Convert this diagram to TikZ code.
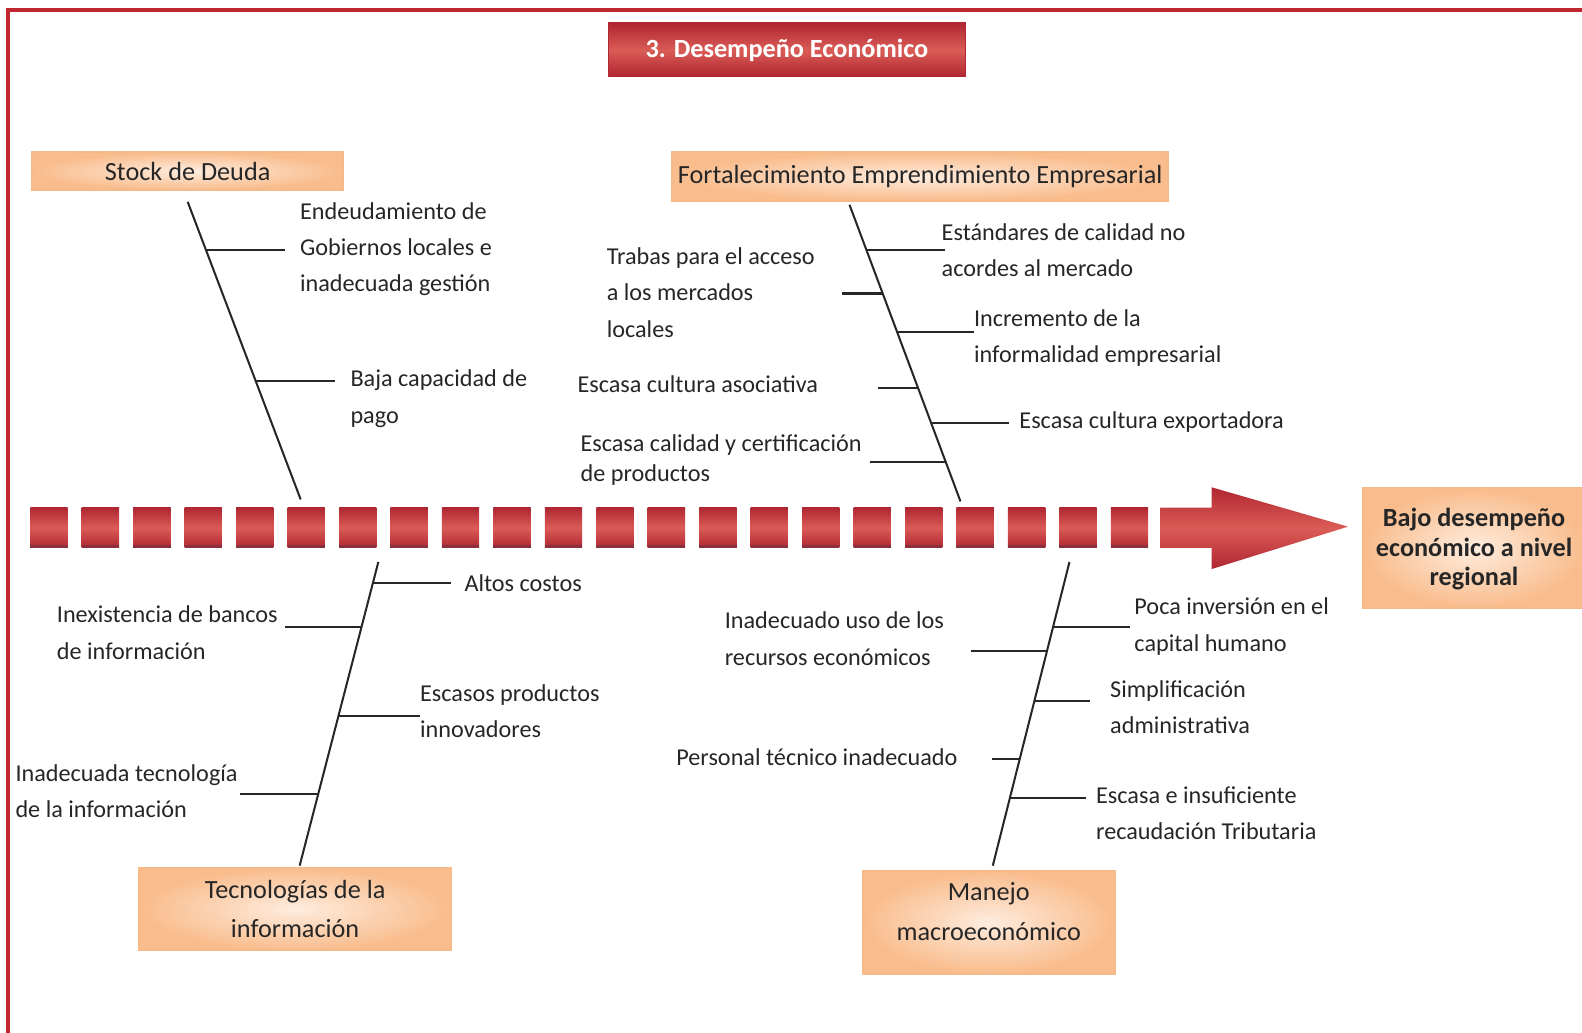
\documentclass[tikz,border=0pt]{standalone}
\usepackage{fontspec}
\setmainfont{Carlito}
\usetikzlibrary{calc}

\definecolor{marco}{RGB}{192,39,48}
\definecolor{rojoosc}{RGB}{176,38,50}
\definecolor{rojoclaro}{RGB}{218,92,86}
\definecolor{rojoborde}{RGB}{140,48,62}
\definecolor{durazno}{RGB}{249,188,140}
\definecolor{duraznoclaro}{RGB}{254,236,222}
\definecolor{duraznoborde}{RGB}{246,186,136}
\definecolor{texto}{RGB}{38,38,38}

\tikzset{
  lbl/.style={anchor=west,align=left,inner sep=0pt,text=texto,font=\fontsize{12}{18}\selectfont},
  causa/.style={draw=duraznoborde,line width=1pt,inner color=duraznoclaro,outer color=durazno,
    text=texto,align=center,inner sep=0pt,font=\fontsize{13}{19.5}\selectfont},
  titulo/.style={draw=rojoosc,line width=0.8pt,top color=rojoosc,bottom color=rojoosc,middle color=rojoclaro,
    text=white,inner sep=0pt,font=\fontsize{13}{15}\bfseries\selectfont},
  hueso/.style={line width=1pt,texto},
  rama/.style={line width=1pt,texto},
}

\begin{document}
\begin{tikzpicture}[x=0.5pt,y=-0.5pt]
\useasboundingbox (0,0) rectangle (1568,1023);
% marco
\draw[marco,line width=1.6pt] (8,1030) -- (8,10) -- (1575,10);

% titulo
\node[titulo,minimum width=177pt,minimum height=26.5pt] (tit) at (780,49.5) {3. Desempeño Económico};

% espina
\foreach \i in {0,...,21}{
  \shade[top color=rojoosc,bottom color=rojoosc,middle color=rojoclaro] ({30+51*\i},503) rectangle ++(37,40);
  \fill[rojoborde] ({30+51*\i},540) rectangle ++(37,3);
}
\shade[top color=rojoosc,bottom color=rojoosc,middle color=rojoclaro]
  (1150,503) -- (1201,503) -- (1201,483) -- (1336,522) -- (1201,564) -- (1201,543) -- (1150,543) -- cycle;

% efecto
\node[causa,minimum width=110pt,minimum height=59.5pt,font=\fontsize{13}{14.5}\bfseries\selectfont] (efecto) at (1461,543.5)
  {Bajo desempeño\\económico a nivel\\regional\\[-13pt]\mbox{}};

% causas
\node[causa,minimum width=154pt,minimum height=18.5pt,text depth=0pt] (stock) at (186,169.5) {Stock de Deuda};
\node[causa,minimum width=246pt,minimum height=24pt] (fort) at (912,175) {Fortalecimiento Emprendimiento Empresarial};
\node[causa,minimum width=154.5pt,minimum height=41pt] (tecn) at (292.5,901) {Tecnologías de la\\información};
\node[causa,minimum width=125pt,minimum height=51pt] (mane) at (980,914) {Manejo\\macroeconómico\\[-9pt]\mbox{}};

% Stock de Deuda
\coordinate (dA) at (186,200);
\coordinate (dB) at (298,495);
\draw[hueso] (dA) -- (dB);
\coordinate (d1) at ($(dA)!0.1627!(dB)$);
\coordinate (d2) at ($(dA)!0.6034!(dB)$);
\coordinate (e1) at (282,248);
\coordinate (e2) at (332,378);
\draw[rama] (d1) -- (d1 -| e1);
\draw[rama] (d2) -- (d2 -| e2);
\node[lbl] (deu1) at (297,247) {Endeudamiento de\\Gobiernos locales e\\inadecuada gestión};
\node[lbl] (deu2) at (347,395) {Baja capacidad de\\pago};

% Fortalecimiento
\coordinate (fA) at (842,203);
\coordinate (fB) at (952,497);
\draw[hueso] (fA) -- (fB);
\coordinate (f1) at ($(fA)!0.153!(fB)$);
\coordinate (f2) at ($(fA)!0.299!(fB)$);
\coordinate (f3) at ($(fA)!0.4286!(fB)$);
\coordinate (f4) at ($(fA)!0.619!(fB)$);
\coordinate (f5) at ($(fA)!0.7347!(fB)$);
\coordinate (f6) at ($(fA)!0.867!(fB)$);
\coordinate (g1) at (937,248);
\coordinate (g2) at (835,291);
\coordinate (g3) at (965,329);
\coordinate (g4) at (870,385);
\coordinate (g5) at (1000,419);
\coordinate (g6) at (862,458);
\foreach \k in {1,...,6}
  \draw[rama] (f\k) -- (f\k -| g\k);
\node[lbl] (fe1) at (933,248) {Estándares de calidad no\\acordes al mercado};
\node[lbl] (fe2) at (601,290) {Trabas para el acceso\\a los mercados\\locales};
\node[lbl] (fe3) at (965,335) {Incremento de la\\informalidad empresarial};
\node[lbl] (fe4) at (572,381) {Escasa cultura asociativa};
\node[lbl] (fe5) at (1010,418) {Escasa cultura exportadora};
\node[lbl] (fe6) at (575,456) {Escasa calidad y certificación\\[-3pt]de productos};

% Tecnologias
\coordinate (tA) at (375,557);
\coordinate (tB) at (297,858);
\draw[hueso] (tA) -- (tB);
\coordinate (t1) at ($(tA)!0.0698!(tB)$);
\coordinate (t2) at ($(tA)!0.2126!(tB)$);
\coordinate (t3) at ($(tA)!0.5083!(tB)$);
\coordinate (t4) at ($(tA)!0.764!(tB)$);
\coordinate (u1) at (447,578);
\coordinate (u2) at (282,621);
\coordinate (u3) at (416,710);
\coordinate (u4) at (238,787);
\foreach \k in {1,...,4}
  \draw[rama] (t\k) -- (t\k -| u\k);
\node[lbl] (te1) at (460,578) {Altos costos};
\node[lbl] (te2) at (56,627) {Inexistencia de bancos\\de información};
\node[lbl] (te3) at (416,705) {Escasos productos\\innovadores};
\node[lbl] (te4) at (15,784) {Inadecuada tecnología\\de la información};

% Manejo macroeconomico
\coordinate (mA) at (1060,557);
\coordinate (mB) at (984,858);
\draw[hueso] (mA) -- (mB);
\coordinate (m1) at ($(mA)!0.2126!(mB)$);
\coordinate (m2) at ($(mA)!0.2924!(mB)$);
\coordinate (m3) at ($(mA)!0.4585!(mB)$);
\coordinate (m4) at ($(mA)!0.6478!(mB)$);
\coordinate (m5) at ($(mA)!0.7774!(mB)$);
\coordinate (n1) at (1120,621);
\coordinate (n2) at (962,645);
\coordinate (n3) at (1080,695);
\coordinate (n4) at (983,752);
\coordinate (n5) at (1076,791);
\foreach \k in {1,...,5}
  \draw[rama] (m\k) -- (m\k -| n\k);
\node[lbl] (ma1) at (1124,621) {Poca inversión en el\\capital humano};
\node[lbl] (ma2) at (718,633) {Inadecuado uso de los\\recursos económicos};
\node[lbl] (ma3) at (1100,701) {Simplificación\\administrativa};
\node[lbl] (ma4) at (670,750) {Personal técnico inadecuado};
\node[lbl] (ma5) at (1086,806) {Escasa e insuficiente\\recaudación Tributaria};
\end{tikzpicture}
\end{document}
